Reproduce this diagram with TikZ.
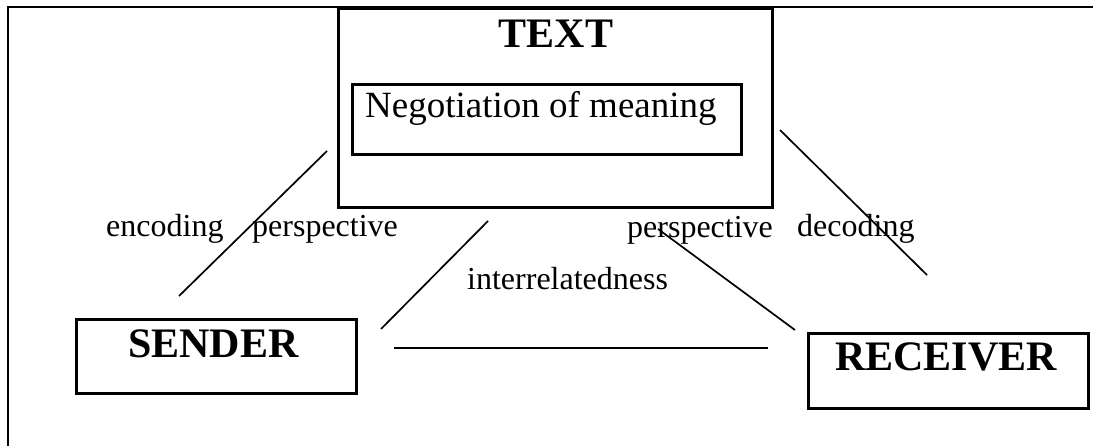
\documentclass[tikz,border=0pt]{standalone}
\usepackage{fontspec}
\setmainfont{Liberation Serif}
\begin{document}
\begin{tikzpicture}[x=1pt,y=-1pt,
  frameline/.style={line width=2.6pt},
  boxline/.style={draw, line width=2.6pt, rectangle, inner sep=0pt, anchor=north west},
  conn/.style={line width=1.7pt},
  lbl/.style={inner sep=0pt, anchor=base west, font=\fontsize{32}{38}\selectfont},
  midtxt/.style={inner sep=0pt, anchor=base west, font=\fontsize{37}{44}\selectfont},
  bigtxt/.style={inner sep=0pt, anchor=base west, font=\fontsize{42}{50}\selectfont\bfseries}]
\useasboundingbox (0,0) rectangle (1093,446);
\fill[white] (0,0) rectangle (1093,446);
% outer frame (partially visible)
\coordinate (fa) at (8,446);
\coordinate (fb) at (8,7);
\coordinate (fc) at (1093,7);
\draw[frameline] (fa) -- (fb) -- (fc);
% boxes
\node[boxline, minimum width=434pt, minimum height=199pt] (textbox) at (337,7) {};
\node[boxline, minimum width=389pt, minimum height=70pt] (negbox) at (351,83) {};
\node[boxline, minimum width=280pt, minimum height=74pt] (senderbox) at (75,318) {};
\node[boxline, minimum width=280pt, minimum height=75pt] (receiverbox) at (807,332) {};
% box texts
\node[bigtxt, anchor=base] (texttitle) at (556,48) {TEXT};
\node[midtxt] (negtxt) at (365,118) {Negotiation of meaning};
\node[bigtxt] (sendertxt) at (128,358) {SENDER};
\node[bigtxt] (receivertxt) at (835,371) {RECEIVER};
% labels
\node[lbl] (enc) at (106,237) {encoding};
\node[lbl] (persp1) at (252,237) {perspective};
\node[lbl] (inter) at (467,290) {interrelatedness};
\node[lbl] (persp2) at (627,238) {perspective};
\node[lbl] (dec) at (797,237) {decoding};
% connector end points
\coordinate (a1) at (327,151);
\coordinate (a2) at (179,296);
\coordinate (b1) at (488,221);
\coordinate (b2) at (381,329);
\coordinate (c1) at (394,348);
\coordinate (c2) at (768,348);
\coordinate (d1) at (658,229);
\coordinate (d2) at (795,330);
\coordinate (e1) at (780,130);
\coordinate (e2) at (927,275);
\draw[conn] (a1) -- (a2);
\draw[conn] (b1) -- (b2);
\draw[conn] (c1) -- (c2);
\draw[conn] (d1) -- (d2);
\draw[conn] (e1) -- (e2);
\end{tikzpicture}
\end{document}
